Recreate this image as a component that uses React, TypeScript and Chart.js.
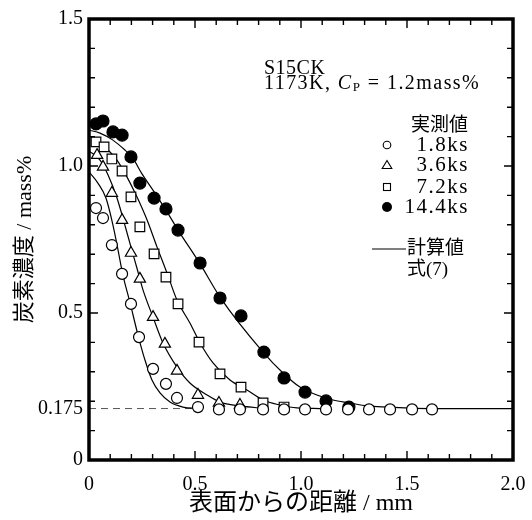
import React, { useEffect, useRef } from 'react';
import { Chart, registerables } from 'chart.js';

Chart.register(...registerables);

// ---- measured data (distance from surface / mm, carbon concentration / mass%) ----
const dist18 = [0.033, 0.066, 0.108, 0.156, 0.198, 0.236, 0.302, 0.363, 0.415, 0.514, 0.613, 0.712, 0.821, 0.92, 1.019, 1.118, 1.222, 1.321, 1.42, 1.524, 1.618];
const conc18 = [0.857, 0.823, 0.731, 0.633, 0.531, 0.418, 0.31, 0.259, 0.211, 0.18, 0.172, 0.172, 0.172, 0.172, 0.172, 0.172, 0.172, 0.172, 0.172, 0.172, 0.172];

const dist36 = [0.038, 0.066, 0.108, 0.156, 0.198, 0.24, 0.302, 0.358, 0.415, 0.514, 0.613, 0.712];
const conc36 = [1.037, 0.997, 0.908, 0.816, 0.704, 0.616, 0.486, 0.395, 0.303, 0.221, 0.194, 0.187];

const dist72 = [0.033, 0.071, 0.108, 0.156, 0.198, 0.24, 0.307, 0.363, 0.42, 0.519, 0.618, 0.717, 0.821, 0.92];
const conc72 = [1.082, 1.065, 1.024, 0.983, 0.895, 0.793, 0.701, 0.622, 0.531, 0.401, 0.293, 0.248, 0.194, 0.18];

const dist144 = [0.033, 0.066, 0.113, 0.156, 0.198, 0.24, 0.307, 0.363, 0.42, 0.524, 0.618, 0.717, 0.825, 0.92, 1.019, 1.118, 1.226];
const conc144 = [1.143, 1.153, 1.116, 1.105, 1.031, 0.942, 0.891, 0.854, 0.782, 0.67, 0.551, 0.49, 0.367, 0.279, 0.231, 0.201, 0.18];

// ---- calculated curves (eq. 7) ----
const calcDist18 = [0, 0.042, 0.08, 0.113, 0.137, 0.16, 0.193, 0.231, 0.264, 0.297, 0.335, 0.382, 0.443, 0.514];
const calcConc18 = [0.98, 0.942, 0.891, 0.799, 0.714, 0.629, 0.537, 0.425, 0.34, 0.272, 0.228, 0.197, 0.18, 0.175];

const calcDist36 = [0, 0.052, 0.09, 0.132, 0.165, 0.198, 0.226, 0.255, 0.302, 0.349, 0.415, 0.476, 0.557, 0.618, 0.712, 0.83];
const calcConc36 = [1.051, 1.02, 0.969, 0.891, 0.81, 0.724, 0.653, 0.578, 0.486, 0.398, 0.316, 0.262, 0.221, 0.197, 0.184, 0.175];

const calcDist72 = [0, 0.038, 0.075, 0.132, 0.179, 0.226, 0.274, 0.321, 0.368, 0.415, 0.476, 0.524, 0.585, 0.665, 0.745, 0.821, 0.901, 0.981, 1.09];
const calcConc72 = [1.102, 1.088, 1.065, 1.02, 0.963, 0.895, 0.816, 0.724, 0.636, 0.544, 0.466, 0.398, 0.33, 0.272, 0.238, 0.204, 0.187, 0.177, 0.175];

const calcDist144 = [0, 0.052, 0.113, 0.17, 0.203, 0.25, 0.311, 0.368, 0.42, 0.524, 0.618, 0.821, 0.915, 0.995, 1.075, 1.151, 1.231, 1.311, 1.406, 1.61, 2.0];
const calcConc144 = [1.122, 1.112, 1.088, 1.054, 1.031, 0.973, 0.908, 0.844, 0.782, 0.667, 0.554, 0.367, 0.296, 0.248, 0.221, 0.204, 0.194, 0.184, 0.18, 0.175, 0.175];

// base carbon level (dashed reference)
const baseDist = [0, 0.5];
const baseConc = [0.175, 0.175];

// ---- ticks ----
const xTickValues = [0, 0.5, 1.0, 1.5, 2.0];
const xTickLabels = ['0', '0.5', '1.0', '1.5', '2.0'];
const yTickValues = [0, 0.175, 0.5, 1.0, 1.5];
const yTickLabels = ['0', '0.175', '0.5', '1.0', '1.5'];
const xMinorStep = 0.1;
const yMinorStep = 0.1;

// ---- texts ----
const steelText = 'S15CK';
const condText = ['1173K, ', 'C', 'P', ' = 1.2mass%'];
const measuredTitle = '実測値';
const seriesLabels = ['1.8ks', '3.6ks', '7.2ks', '14.4ks'];
const calcTitle = '計算値';
const calcSub = '式(7)';
const xTitle = '表面からの距離 / mm';
const yTitle = '炭素濃度 / mass%';

const SERIF = "'Liberation Serif', 'Noto Sans CJK JP', serif";

const pts = (xs: number[], ys: number[]) => xs.map((x, i) => ({ x, y: ys[i] }));

const decorPlugin = {
  id: 'decor',
  afterDatasetsDraw(chart: any) {
    const { ctx, chartArea } = chart;
    const { left, right, top, bottom } = chartArea;
    const xs = chart.scales.x;
    const ys = chart.scales.y;
    ctx.save();
    ctx.strokeStyle = '#000';
    ctx.lineWidth = 1.4;
    ctx.beginPath();
    const nx = Math.round((xs.max - xs.min) / xMinorStep);
    for (let i = 0; i <= nx; i++) {
      const v = xs.min + i * xMinorStep;
      const px = xs.getPixelForValue(v);
      const major = i % 5 === 0;
      const len = major ? 9 : 6;
      ctx.moveTo(px, bottom);
      ctx.lineTo(px, bottom - len);
      ctx.moveTo(px, top);
      ctx.lineTo(px, top + len);
    }
    const ny = Math.round((ys.max - ys.min) / yMinorStep);
    for (let i = 0; i <= ny; i++) {
      const v = ys.min + i * yMinorStep;
      const py = ys.getPixelForValue(v);
      const major = i % 5 === 0;
      const len = major ? 9 : 6;
      ctx.moveTo(left, py);
      ctx.lineTo(left + len, py);
      ctx.moveTo(right, py);
      ctx.lineTo(right - len, py);
    }
    ctx.stroke();
    ctx.lineWidth = 3.5;
    ctx.strokeRect(left, top, right - left, bottom - top);

    // annotation text
    ctx.fillStyle = '#000';
    ctx.textBaseline = 'middle';
    ctx.textAlign = 'left';
    ctx.font = `20px ${SERIF}`;
    ctx.letterSpacing = '0.5px';
    ctx.fillText(steelText, 264, 69);
    ctx.letterSpacing = '1.45px';
    let cx = 264;
    const cy = 84;
    ctx.fillText(condText[0], cx, cy);
    cx += ctx.measureText(condText[0]).width;
    ctx.font = `italic 20px ${SERIF}`;
    ctx.fillText(condText[1], cx, cy);
    cx += ctx.measureText(condText[1]).width;
    ctx.font = `13px ${SERIF}`;
    ctx.fillText(condText[2], cx, cy + 4);
    cx += ctx.measureText(condText[2]).width;
    ctx.font = `20px ${SERIF}`;
    ctx.fillText(condText[3], cx, cy);

    // legend
    ctx.letterSpacing = '0px';
    ctx.font = `19px ${SERIF}`;
    ctx.fillText(measuredTitle, 411, 126);
    ctx.textAlign = 'right';
    ctx.font = `21px ${SERIF}`;
    ctx.letterSpacing = '1.5px';
    const ly = [145, 165, 187, 207];
    seriesLabels.forEach((t, i) => ctx.fillText(t, 469, ly[i]));
    ctx.letterSpacing = '0px';
    // legend markers
    ctx.lineWidth = 1.1;
    const mx = 387;
    ctx.beginPath();
    ctx.arc(mx, ly[0], 3.8, 0, Math.PI * 2);
    ctx.stroke();
    ctx.beginPath();
    ctx.moveTo(mx, ly[1] - 4.5);
    ctx.lineTo(mx + 4.8, ly[1] + 3.5);
    ctx.lineTo(mx - 4.8, ly[1] + 3.5);
    ctx.closePath();
    ctx.stroke();
    ctx.strokeRect(mx - 3.5, ly[2] - 3.5, 7, 7);
    ctx.beginPath();
    ctx.arc(mx, ly[3], 5, 0, Math.PI * 2);
    ctx.fill();
    // calc legend
    ctx.lineWidth = 1.2;
    ctx.beginPath();
    ctx.moveTo(372, 249);
    ctx.lineTo(406, 249);
    ctx.stroke();
    ctx.textAlign = 'left';
    ctx.font = `19px ${SERIF}`;
    ctx.fillText(calcTitle, 407, 249);
    ctx.fillText(calcSub, 407, 270);
    ctx.restore();
  },
};

export default function App() {
  const ref = useRef<HTMLCanvasElement | null>(null);
  useEffect(() => {
    if (!ref.current) return;
    const scatterBase = {
      type: 'scatter' as const,
      showLine: false,
      pointBorderColor: '#000',
      pointBorderWidth: 1.2,
    };
    const lineBase = {
      type: 'line' as const,
      borderColor: '#000',
      borderWidth: 1.2,
      pointRadius: 0,
      fill: false,
      cubicInterpolationMode: 'monotone' as const,
    };
    const chart = new Chart(ref.current, {
      type: 'scatter',
      data: {
        datasets: [
          { ...scatterBase, label: seriesLabels[0], data: pts(dist18, conc18), pointStyle: 'circle', pointRadius: 5.5, pointBackgroundColor: '#fff' },
          { ...scatterBase, label: seriesLabels[1], data: pts(dist36, conc36), pointStyle: 'triangle', pointRadius: 6.5, pointBackgroundColor: '#fff' },
          { ...scatterBase, label: seriesLabels[2], data: pts(dist72, conc72), pointStyle: 'rect', pointRadius: 6.8, pointBackgroundColor: '#fff' },
          { ...scatterBase, label: seriesLabels[3], data: pts(dist144, conc144), pointStyle: 'circle', pointRadius: 6, pointBackgroundColor: '#000' },
          { ...lineBase, label: 'calc 1.8', data: pts(calcDist18, calcConc18) },
          { ...lineBase, label: 'calc 3.6', data: pts(calcDist36, calcConc36) },
          { ...lineBase, label: 'calc 7.2', data: pts(calcDist72, calcConc72) },
          { ...lineBase, label: 'calc 14.4', data: pts(calcDist144, calcConc144) },
          { ...lineBase, label: 'base', data: pts(baseDist, baseConc), borderColor: '#555', borderWidth: 1, borderDash: [7, 5], cubicInterpolationMode: 'default' as const, tension: 0 },
        ],
      },
      options: {
        responsive: false,
        animation: false,
        devicePixelRatio: 1,
        layout: { padding: { left: 0, right: 19, top: 19, bottom: 0 } },
        plugins: { legend: { display: false }, tooltip: { enabled: false } },
        scales: {
          x: {
            type: 'linear',
            min: 0,
            max: 2,
            grid: { display: false, drawTicks: false },
            border: { display: false },
            afterBuildTicks: (s: any) => { s.ticks = xTickValues.map((v) => ({ value: v })); },
            afterFit: (s: any) => { s.height = 60; s.paddingLeft = 0; s.paddingRight = 0; },
            ticks: {
              padding: 13,
              color: '#000',
              font: { family: SERIF, size: 20 },
              maxRotation: 0,
              callback: (_v: any, i: number) => xTickLabels[i],
            },
            title: {
              display: true,
              text: xTitle,
              color: '#000',
              font: { family: SERIF, size: 24 },
              padding: { top: 0, bottom: 2 },
            },
          },
          y: {
            type: 'linear',
            min: 0,
            max: 1.5,
            grid: { display: false, drawTicks: false },
            border: { display: false },
            afterBuildTicks: (s: any) => { s.ticks = yTickValues.map((v) => ({ value: v })); },
            afterFit: (s: any) => { s.width = 89; s.paddingTop = 0; s.paddingBottom = 0; },
            ticks: {
              padding: 6,
              color: '#000',
              font: { family: SERIF, size: 20 },
              callback: (_v: any, i: number) => yTickLabels[i],
            },
            title: {
              display: true,
              text: yTitle,
              color: '#000',
              font: { family: SERIF, size: 22 },
              padding: { top: 12, bottom: 0 },
            },
          },
        },
      },
      plugins: [decorPlugin],
    });
    return () => chart.destroy();
  }, []);
  return (
    <div style={{ position: 'absolute', left: 0, top: 0, width: 532, height: 520, background: '#fff' }}>
      <canvas ref={ref} width={532} height={520} />
    </div>
  );
}
